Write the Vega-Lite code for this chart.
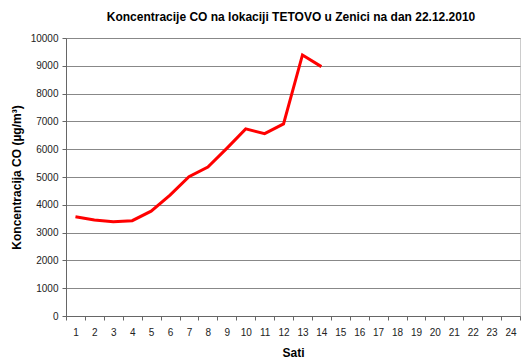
{
  "$schema": "https://vega.github.io/schema/vega-lite/v6.json",
  "autosize": {"type": "none"},
  "width": 454,
  "height": 278,
  "padding": {"left": 66, "top": 38, "right": 9, "bottom": 48},
  "background": "white",
  "title": {"text": "Koncentracije CO na lokaciji TETOVO u Zenici na dan 22.12.2010", "font": "Liberation Sans", "fontSize": 12, "fontWeight": "bold", "color": "black", "anchor": "middle", "offset": 9, "dx": -2},
  "config": {
    "font": "Liberation Sans",
    "view": {"stroke": "#999", "strokeDash": [1, 1], "strokeWidth": 1}
  },
  "data": {"values": [
    {"sat": "1", "co": 3570},
    {"sat": "2", "co": 3450},
    {"sat": "3", "co": 3390},
    {"sat": "4", "co": 3430},
    {"sat": "5", "co": 3770},
    {"sat": "6", "co": 4350},
    {"sat": "7", "co": 5010},
    {"sat": "8", "co": 5360},
    {"sat": "9", "co": 6030},
    {"sat": "10", "co": 6730},
    {"sat": "11", "co": 6560},
    {"sat": "12", "co": 6910},
    {"sat": "13", "co": 9390},
    {"sat": "14", "co": 8970},
    {"sat": "15", "co": null},
    {"sat": "16", "co": null},
    {"sat": "17", "co": null},
    {"sat": "18", "co": null},
    {"sat": "19", "co": null},
    {"sat": "20", "co": null},
    {"sat": "21", "co": null},
    {"sat": "22", "co": null},
    {"sat": "23", "co": null},
    {"sat": "24", "co": null}
  ]},
  "mark": {"type": "line", "color": "#FF0000", "strokeWidth": 3, "strokeJoin": "miter"},
  "encoding": {
    "x": {
      "field": "sat", "type": "ordinal", "sort": null,
      "scale": {"paddingInner": 0, "paddingOuter": 0},
      "axis": {
        "title": "Sati", "titleFontSize": 12, "titleFontWeight": "bold", "titleColor": "black", "titlePadding": 10,
        "labelAngle": 0, "labelFontSize": 10, "labelColor": "#222", "labelPadding": 7,
        "tickBand": "extent", "tickColor": "#666", "tickSize": 4,
        "domainColor": "#666", "grid": false
      }
    },
    "y": {
      "field": "co", "type": "quantitative",
      "scale": {"domain": [0, 10000], "nice": false},
      "axis": {
        "title": "Koncentracija CO (µg/m³)", "titleFontSize": 12, "titleFontWeight": "bold", "titleColor": "black", "titlePadding": 7,
        "values": [0, 1000, 2000, 3000, 4000, 5000, 6000, 7000, 8000, 9000, 10000],
        "format": "d", "labelFontSize": 10, "labelColor": "#222", "labelPadding": 4,
        "tickColor": "#666", "tickSize": 4, "domainColor": "#666",
        "grid": true, "gridColor": "#888", "gridWidth": 1
      }
    }
  }
}
